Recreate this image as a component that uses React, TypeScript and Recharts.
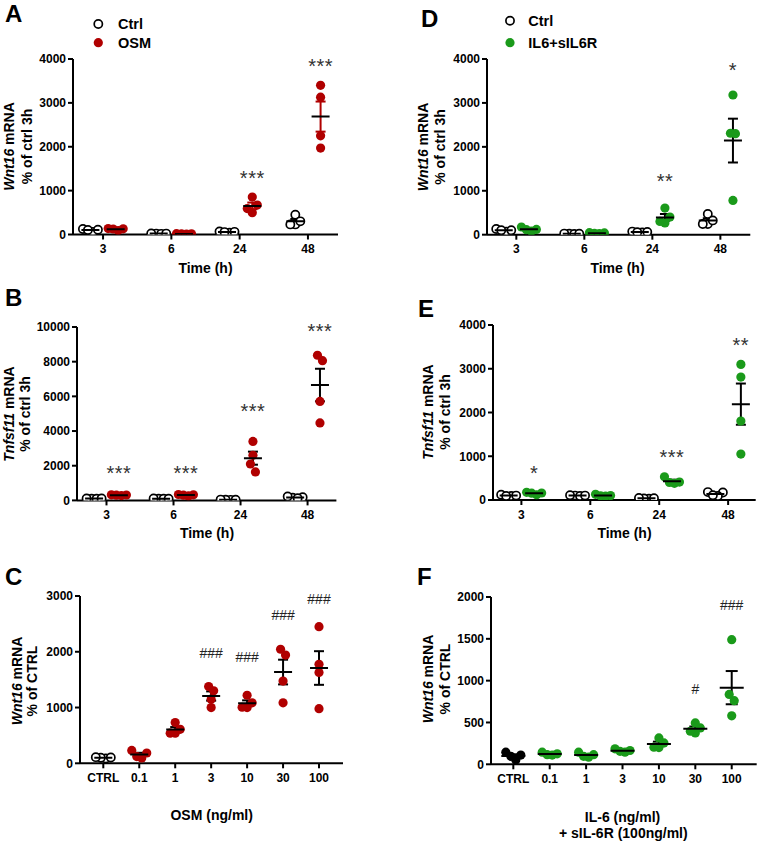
import React from 'react';
import { ScatterChart, Scatter, XAxis, YAxis, ErrorBar, ReferenceDot } from 'recharts';

const FONT = '"Liberation Sans", Arial, Helvetica, sans-serif';
const RED = '#B00000';
const GREEN = '#1A9A1A';
const BLACK = '#000000';

// ---------- Data ----------
const timeLabels = ['3', '6', '24', '48'];
const doseLabels = ['CTRL', '0.1', '1', '3', '10', '30', '100'];

// Panel A: Wnt16 mRNA, Ctrl vs OSM
const aCtrl = [[60, 125, 110, 105], [20, 15, 25, 20], [40, 70, 55, 60], [450, 230, 230, 300]];
const aOsm = [[90, 130, 125, 135], [10, 15, 12, 18], [853, 670, 590, 496], [3400, 3130, 2250, 1970]];
const aStars = ['', '', '***', '***'];
const aStarY = [0, 0, 1380, 3950];

// Panel B: Tnfsf11 mRNA, Ctrl vs OSM
const bCtrl = [[100, 110, 95, 105], [100, 95, 105, 100], [30, 40, 35, 45], [150, 230, 180, 120]];
const bOsm = [[280, 320, 300, 310], [260, 300, 320, 340], [3400, 2600, 2100, 1640], [8060, 8370, 5710, 4470]];
const bStars = ['***', '***', '***', '***'];
const bStarY = [1830, 1830, 5420, 10040];

// Panel C: Wnt16 mRNA, OSM dose
const cValues = [
  [85, 100, 110, 105],
  [230, 95, 120, 185],
  [730, 540, 610, 540],
  [1300, 1375, 1150, 1000],
  [1220, 1000, 1005, 1085],
  [1940, 2045, 1475, 1085],
  [2450, 1775, 1630, 980],
];
const cMarks = ['', '', '', '###', '###', '###', '###'];
const cMarkY = [0, 0, 0, 1975, 1900, 2655, 2940];

// Panel D: Wnt16 mRNA, Ctrl vs IL6+sIL6R
const dCtrl = [[70, 130, 100, 100], [20, 25, 15, 20], [50, 70, 60, 55], [470, 245, 245, 325]];
const dIl6 = [[175, 80, 115, 120], [40, 30, 45, 25], [607, 266, 303, 400], [2310, 2300, 3180, 780]];
const dStars = ['', '', '**', '*'];
const dStarY = [0, 0, 1325, 3850];

// Panel E: Tnfsf11 mRNA, Ctrl vs IL6+sIL6R
const eCtrl = [[90, 120, 100, 90], [100, 90, 110, 100], [30, 40, 35, 45], [170, 180, 90, 110]];
const eIl6 = [[175, 120, 155, 160], [130, 90, 100, 95], [530, 400, 380, 410], [3100, 2810, 1805, 1050]];
const eStars = ['*', '', '***', '**'];
const eStarY = [725, 0, 1090, 3655];

// Panel F: Wnt16 mRNA, IL-6 dose
const fValues = [
  [145, 50, 110, 95],
  [110, 145, 115, 125],
  [85, 145, 95, 115],
  [145, 185, 155, 165],
  [205, 255, 315, 200],
  [375, 435, 495, 395],
  [1490, 835, 760, 580],
];
const fMarks = ['', '', '', '', '', '#', '###'];
const fMarkY = [0, 0, 0, 0, 0, 895, 1910];

// ---------- Types / helpers ----------
type Style = { kind: 'ring' | 'dot'; color: string };
type Group = { center: number; values: number[]; style: Style; whisker: string };
type Mark = { x: number; y: number; label: string; kind: 'star' | 'hash' };
type PanelCfg = {
  id: string;
  plotLeft: number; plotRight: number; plotTop: number; plotBottom: number;
  xDomain: [number, number]; yMax: number; yStep: number; labels: string[];
  groups: Group[]; marks: Mark[]; meanHalf: number; capHalf: number;
};

const GROUP_OFF = 0.185;
const SWARM_STEP = 5;
const SWARM_D = 8;

function swarm(values: number[], pxPerY: number): number[] {
  const n = values.length;
  const idx = values.map((_, i) => i).sort((a, b) => values[a] - values[b]);
  const slots = new Array(n).fill(0);
  const offsets = new Array(n).fill(0);
  const placed: number[] = [];
  const order = [0, -1, 1, -2, 2, -3, 3, -4, 4];
  for (const i of idx) {
    const y = values[i] * pxPerY;
    for (const s of order) {
      const blocked = placed.some((j) => slots[j] === s && Math.abs(values[j] * pxPerY - y) < SWARM_D);
      if (!blocked) { slots[i] = s; break; }
    }
    placed.push(i);
  }
  let cluster: number[] = [];
  const flush = () => {
    if (!cluster.length) return;
    const m = cluster.reduce((a, j) => a + slots[j], 0) / cluster.length;
    cluster.forEach((j) => { offsets[j] = (slots[j] - m) * SWARM_STEP; });
    cluster = [];
  };
  for (let k = 0; k < idx.length; k++) {
    const i = idx[k];
    if (k > 0 && (values[i] - values[idx[k - 1]]) * pxPerY >= SWARM_D) flush();
    cluster.push(i);
  }
  flush();
  return offsets;
}

const mean = (v: number[]) => v.reduce((a, b) => a + b, 0) / v.length;
const sem = (v: number[]) => {
  const m = mean(v);
  const sd = Math.sqrt(v.reduce((a, b) => a + (b - m) * (b - m), 0) / (v.length - 1));
  return sd / Math.sqrt(v.length);
};

const RING: Style = { kind: 'ring', color: BLACK };

function timeGroups(ctrl: number[][], treat: number[][], color: string, whisker: string): Group[] {
  const out: Group[] = [];
  ctrl.forEach((v, i) => out.push({ center: i - GROUP_OFF, values: v, style: RING, whisker: BLACK }));
  treat.forEach((v, i) => out.push({ center: i + GROUP_OFF, values: v, style: { kind: 'dot', color }, whisker }));
  return out;
}
function timeMarks(labels: string[], ys: number[]): Mark[] {
  return labels
    .map((l, i) => ({ x: i + GROUP_OFF, y: ys[i], label: l, kind: 'star' as const }))
    .filter((m) => m.label);
}
function doseGroups(values: number[][], ctrlStyle: Style, color: string): Group[] {
  return values.map((v, i) => ({
    center: i, values: v, style: i === 0 ? ctrlStyle : { kind: 'dot', color }, whisker: BLACK,
  }));
}
function doseMarks(labels: string[], ys: number[]): Mark[] {
  return labels
    .map((l, i) => ({ x: i, y: ys[i], label: l, kind: 'hash' as const }))
    .filter((m) => m.label);
}

// ---------- Panels ----------
const panels: PanelCfg[] = [
  {
    id: 'A', plotLeft: 73, plotRight: 338, plotTop: 59, plotBottom: 234.5,
    xDomain: [-0.44, 3.44], yMax: 4000, yStep: 1000, labels: timeLabels,
    groups: timeGroups(aCtrl, aOsm, RED, RED), marks: timeMarks(aStars, aStarY), meanHalf: 9, capHalf: 5,
  },
  {
    id: 'B', plotLeft: 77.3, plotRight: 336.7, plotTop: 327.3, plotBottom: 500.7,
    xDomain: [-0.44, 3.43], yMax: 10000, yStep: 2000, labels: timeLabels,
    groups: timeGroups(bCtrl, bOsm, RED, BLACK), marks: timeMarks(bStars, bStarY), meanHalf: 9, capHalf: 5,
  },
  {
    id: 'C', plotLeft: 80, plotRight: 343, plotTop: 596, plotBottom: 763.3,
    xDomain: [-0.648, 6.667], yMax: 3000, yStep: 1000, labels: doseLabels,
    groups: doseGroups(cValues, RING, RED), marks: doseMarks(cMarks, cMarkY), meanHalf: 9, capHalf: 5,
  },
  {
    id: 'D', plotLeft: 486.7, plotRight: 750, plotTop: 59.3, plotBottom: 235,
    xDomain: [-0.431, 3.44], yMax: 4000, yStep: 1000, labels: timeLabels,
    groups: timeGroups(dCtrl, dIl6, GREEN, BLACK), marks: timeMarks(dStars, dStarY), meanHalf: 9, capHalf: 5,
  },
  {
    id: 'E', plotLeft: 493.3, plotRight: 756, plotTop: 325, plotBottom: 500,
    xDomain: [-0.412, 3.4], yMax: 4000, yStep: 1000, labels: timeLabels,
    groups: timeGroups(eCtrl, eIl6, GREEN, BLACK), marks: timeMarks(eStars, eStarY), meanHalf: 9, capHalf: 5,
  },
  {
    id: 'F', plotLeft: 491, plotRight: 756.7, plotTop: 596.7, plotBottom: 764,
    xDomain: [-0.613, 6.686], yMax: 2000, yStep: 500, labels: doseLabels,
    groups: doseGroups(fValues, { kind: 'dot', color: BLACK }, GREEN), marks: doseMarks(fMarks, fMarkY), meanHalf: 12, capHalf: 6,
  },
];

const Y_AXIS_W = 60;
const M_TOP = 30;
const M_RIGHT = 6;
const X_AXIS_H = 30;

const tickStyle = { fill: '#000', fontSize: 12, fontWeight: 700, fontFamily: FONT };
const axisLineStyle = { stroke: '#000', strokeWidth: 2 };

function markShape(m: Mark) {
  return (p: any) =>
    m.kind === 'star' ? (
      <text x={p.cx} y={p.cy + 11.5} textAnchor="middle" fontSize={20} fill="#333"
        fontFamily={FONT} letterSpacing={0.5}>{m.label}</text>
    ) : (
      <text x={p.cx} y={p.cy + 5} textAnchor="middle" fontSize={14} fill="#222"
        fontFamily={FONT}>{m.label}</text>
    );
}

function Panel({ cfg }: { cfg: PanelCfg }) {
  const plotW = cfg.plotRight - cfg.plotLeft;
  const plotH = cfg.plotBottom - cfg.plotTop;
  const pxPerX = plotW / (cfg.xDomain[1] - cfg.xDomain[0]);
  const pxPerY = plotH / cfg.yMax;
  const width = plotW + Y_AXIS_W + M_RIGHT;
  const height = plotH + M_TOP + X_AXIS_H;
  const yTicks: number[] = [];
  for (let v = 0; v <= cfg.yMax + 1e-6; v += cfg.yStep) yTicks.push(v);
  const xTicks = cfg.labels.map((_, i) => i);

  const pointSeries = cfg.groups.map((g) => {
    const offs = swarm(g.values, pxPerY);
    return g.values.map((v, k) => ({ x: g.center + offs[k] / pxPerX, y: v }));
  });

  return (
    <div style={{ position: 'absolute', left: cfg.plotLeft - Y_AXIS_W, top: cfg.plotTop - M_TOP }}>
      <ScatterChart width={width} height={height} margin={{ top: M_TOP, right: M_RIGHT, bottom: 0, left: 0 }}>
        <XAxis
          type="number" dataKey="x" domain={cfg.xDomain} ticks={xTicks} interval={0}
          allowDataOverflow height={X_AXIS_H} tickSize={5} tickMargin={5}
          tickFormatter={(v: number) => cfg.labels[Math.round(v)] ?? ''}
          axisLine={axisLineStyle} tickLine={axisLineStyle} tick={tickStyle}
        />
        <YAxis
          type="number" dataKey="y" domain={[0, cfg.yMax]} ticks={yTicks} interval={0}
          allowDataOverflow width={Y_AXIS_W} tickSize={5} tickMargin={2}
          axisLine={axisLineStyle} tickLine={axisLineStyle} tick={tickStyle}
        />
        {cfg.groups.map((g, gi) => (
          <Scatter
            key={`p${gi}`} data={pointSeries[gi]} isAnimationActive={false}
            shape={(p: any) =>
              g.style.kind === 'ring' ? (
                <circle cx={p.cx} cy={p.cy} r={4.1} fill="#fff" stroke="#000" strokeWidth={1.7} />
              ) : (
                <circle cx={p.cx} cy={p.cy} r={4.6} fill={g.style.color} />
              )
            }
          />
        ))}
        {cfg.groups.map((g, gi) => (
          <Scatter
            key={`m${gi}`} data={[{ x: g.center, y: mean(g.values), err: sem(g.values) }]}
            isAnimationActive={false}
            shape={(p: any) => (
              <line x1={p.cx - cfg.meanHalf} x2={p.cx + cfg.meanHalf} y1={p.cy} y2={p.cy} stroke="#000" strokeWidth={2} />
            )}
          >
            <ErrorBar dataKey="err" direction="y" width={cfg.capHalf} stroke={g.whisker} strokeWidth={2} />
          </Scatter>
        ))}
        {cfg.marks.map((m, mi) => (
          <ReferenceDot key={`r${mi}`} x={m.x} y={m.y} r={3} ifOverflow="visible" shape={markShape(m)} />
        ))}
      </ScatterChart>
    </div>
  );
}

// ---------- Overlay text ----------
function YTitle({ x1, x2, y, gene, line2 }: { x1: number; x2: number; y: number; gene: string; line2: string }) {
  return (
    <g fontFamily={FONT} fontWeight={700} fontSize={14} fill="#000">
      <text transform={`translate(${x1},${y}) rotate(-90)`} textAnchor="middle">
        <tspan fontStyle="italic">{gene}</tspan> mRNA
      </text>
      <text transform={`translate(${x2},${y}) rotate(-90)`} textAnchor="middle">{line2}</text>
    </g>
  );
}

function Overlay() {
  const letter = { fontFamily: FONT, fontWeight: 700, fontSize: 24, fill: '#000' } as const;
  const title = { fontFamily: FONT, fontWeight: 700, fontSize: 14, fill: '#000', textAnchor: 'middle' } as const;
  const leg = { fontFamily: FONT, fontWeight: 700, fontSize: 14.5, fill: '#000' } as const;
  return (
    <svg width={759} height={842} style={{ position: 'absolute', left: 0, top: 0, pointerEvents: 'none' }}>
      <text x={5} y={22} {...letter}>A</text>
      <text x={421} y={27} {...letter}>D</text>
      <text x={5} y={306} {...letter}>B</text>
      <text x={418} y={317} {...letter}>E</text>
      <text x={5} y={585} {...letter}>C</text>
      <text x={417} y={585} {...letter}>F</text>

      <circle cx={98.3} cy={24} r={4.1} fill="#fff" stroke="#000" strokeWidth={1.7} />
      <circle cx={98.3} cy={42.7} r={4.6} fill={RED} />
      <text x={118} y={28.5} {...leg}>Ctrl</text>
      <text x={118} y={47.7} {...leg}>OSM</text>

      <circle cx={510} cy={20.7} r={4.1} fill="#fff" stroke="#000" strokeWidth={1.7} />
      <circle cx={510} cy={42.7} r={4.6} fill={GREEN} />
      <text x={528.3} y={26} {...leg}>Ctrl</text>
      <text x={528.3} y={47.7} {...leg}>IL6+sIL6R</text>

      <YTitle x1={14} x2={31.5} y={146.5} gene="Wnt16" line2="% of ctrl 3h" />
      <YTitle x1={13.5} x2={30} y={414} gene="Tnfsf11" line2="% of ctrl 3h" />
      <YTitle x1={21.7} x2={37} y={681} gene="Wnt16" line2="% of CTRL" />
      <YTitle x1={428.3} x2={445} y={147} gene="Wnt16" line2="% of ctrl 3h" />
      <YTitle x1={433} x2={450} y={412} gene="Tnfsf11" line2="% of ctrl 3h" />
      <YTitle x1={433.3} x2={450} y={679} gene="Wnt16" line2="% of CTRL" />

      <text x={205.5} y={273} {...title}>Time (h)</text>
      <text x={207} y={538} {...title}>Time (h)</text>
      <text x={617.5} y={273} {...title}>Time (h)</text>
      <text x={624.5} y={538} {...title}>Time (h)</text>
      <text x={211.7} y={820} {...title}>OSM (ng/ml)</text>
      <text x={622.5} y={821.7} {...title}>IL-6 (ng/ml)</text>
      <text x={623.3} y={837.5} {...title}>+ sIL-6R (100ng/ml)</text>
    </svg>
  );
}

export default function App() {
  return (
    <div style={{ position: 'absolute', left: 0, top: 0, width: 759, height: 842, background: '#fff', overflow: 'hidden' }}>
      {panels.map((p) => (
        <Panel key={p.id} cfg={p} />
      ))}
      <Overlay />
    </div>
  );
}
